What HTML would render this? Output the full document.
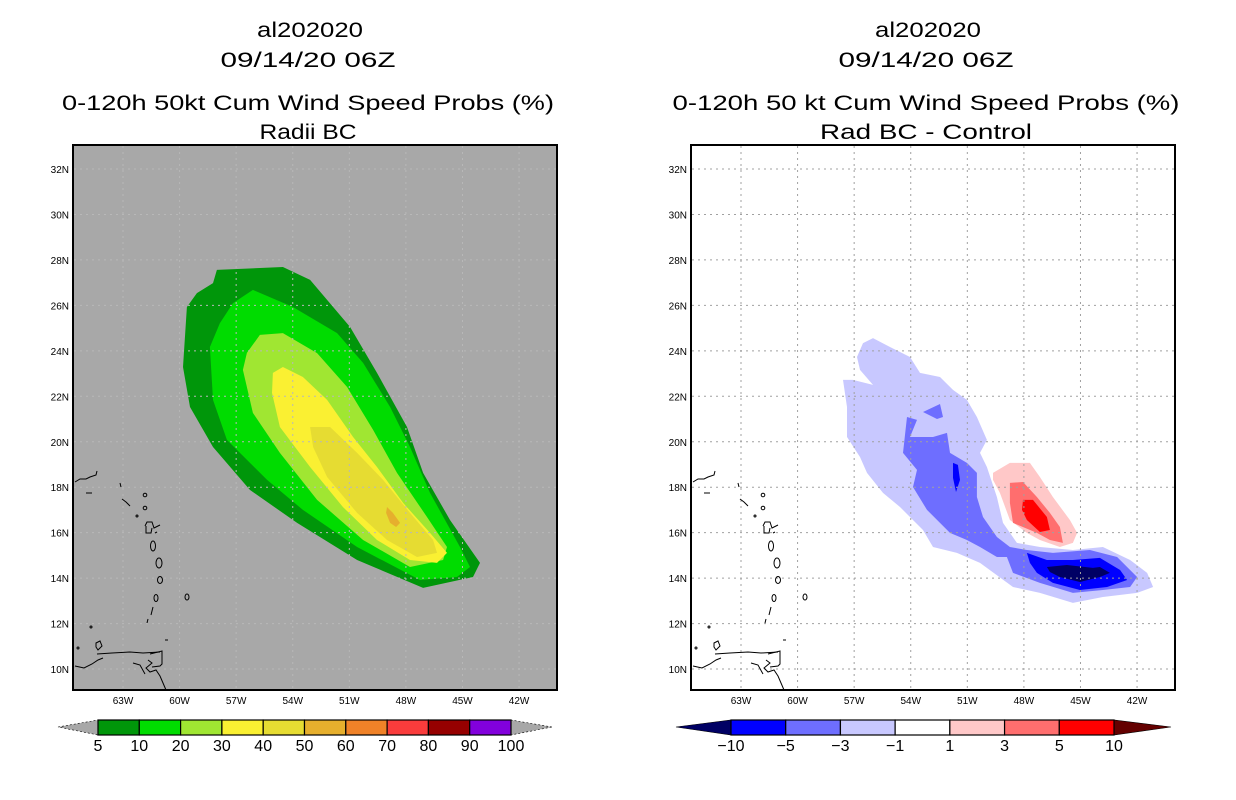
<!DOCTYPE html>
<html><head><meta charset="utf-8">
<style>
html,body{margin:0;padding:0;background:#fff;width:1236px;height:800px;overflow:hidden}
svg{display:block;font-family:"Liberation Sans",sans-serif}
.t{font-size:21px;text-anchor:middle;fill:#000}
.lab{font-size:10px;fill:#000}
.cb{font-size:16px;text-anchor:middle;fill:#000}
</style></head><body>
<svg id="s" width="1236" height="800">
<g>
<text class="t" x="310" y="37" textLength="106" lengthAdjust="spacingAndGlyphs">al202020</text>
<text class="t" x="308" y="67" textLength="175" lengthAdjust="spacingAndGlyphs">09/14/20 06Z</text>
<text class="t" x="308" y="110" textLength="492" lengthAdjust="spacingAndGlyphs">0-120h 50kt Cum Wind Speed Probs (%)</text>
<text class="t" x="308" y="139" textLength="97" lengthAdjust="spacingAndGlyphs">Radii BC</text>
</g>
<g>
<text class="t" x="928" y="37" textLength="106" lengthAdjust="spacingAndGlyphs">al202020</text>
<text class="t" x="926" y="67" textLength="175" lengthAdjust="spacingAndGlyphs">09/14/20 06Z</text>
<text class="t" x="926" y="110" textLength="507" lengthAdjust="spacingAndGlyphs">0-120h 50 kt Cum Wind Speed Probs (%)</text>
<text class="t" x="926" y="139" textLength="212" lengthAdjust="spacingAndGlyphs">Rad BC - Control</text>
</g>
<rect x="73" y="145" width="484" height="545" fill="#a8a8a8"/>
<rect x="691" y="145" width="484" height="545" fill="#fff"/>
<g id="leftFill"></g>
<g id="rightFill"></g>
<g id="grids"></g>
<g id="coastL" fill="none" stroke="#000" stroke-width="1">
<path d="M75,482 L80,479 L86,479 L90,477 L96,475 L97,471 M86,493 L92,493 M120,483 L121,487 M122,499 L126,502 L130,506"/>
<circle cx="145" cy="495" r="1.8"/><circle cx="145" cy="508" r="1.8"/><circle cx="137" cy="516" r="1"/>
<path d="M145,526 L147,522 L152,522 L154,528 L160,525 M146,526 L146,533 L151,533 L152,528 M155,533 L157,532"/>
<ellipse cx="153" cy="546" rx="2.5" ry="5"/><ellipse cx="159" cy="563" rx="3" ry="5"/><ellipse cx="160" cy="580" rx="2.5" ry="3.5"/>
<ellipse cx="156" cy="598" rx="2" ry="3.5"/><ellipse cx="187" cy="597" rx="2" ry="3"/><path d="M153,607 L151,615 M148,619 L147,623"/>
<circle cx="91" cy="627" r="1"/><circle cx="78" cy="648" r="1"/>
<path d="M96,643 L100,641 L102,646 L98,650 L96,647 Z M165,640 L168,640 M97,654 L112,653 L130,652 L143,653 L160,652 M75,666 L84,668 L92,664 L98,660 L103,658"/>
<path d="M150,654 L162,651 L162,664 L160,666 L152,667 M148,660 L152,663 L146,668 L150,672 L156,670 L160,676 L163,683 L166,690 M133,663 L140,665 L145,674"/>
</g>
<use href="#coastL" x="618" y="0"/>
<g id="axes"></g>
<rect x="73" y="145" width="484" height="545" fill="none" stroke="#000" stroke-width="2"/>
<rect x="691" y="145" width="484" height="545" fill="none" stroke="#000" stroke-width="2"/>
<g id="cbL"></g>
<g id="cbR"></g>
</svg>
<script>
// ---- data ----
const lonTicks=[-63,-60,-57,-54,-51,-48,-45,-42];
const latTicks=[10,12,14,16,18,20,22,24,26,28,30,32];
const probLevels=["5","10","20","30","40","50","60","70","80","90","100"];
const probColors=["#00960a","#00dc00","#a0e632","#faf032","#e6dc32","#e6af2d","#f08228","#fa3c3c","#960000","#8200dc"];
const diffLevels=["-10","-5","-3","-1","1","3","5","10"];
const diffColors=["#0000ff","#6e6eff","#c8c8ff","#ffffff","#ffc8c8","#ff6e6e","#ff0000"];
const p05=[[-58.02,27.56],[-54.52,27.69],[-53.08,27.12],[-50.96,25.05],[-49.53,23.03],[-47.94,20.65],[-47.09,18.63],[-45.66,16.56],[-44.07,14.67],[-44.44,14.05],[-47.09,13.57],[-50.59,14.80],[-53.77,16.43],[-56.27,17.88],[-58.23,19.77],[-59.45,21.53],[-59.82,23.29],[-59.61,25.93],[-59.08,26.54],[-58.23,26.98]];
const p10=[[-56.11,26.68],[-53.99,25.93],[-51.65,24.78],[-50.27,23.47],[-48.84,21.53],[-47.78,19.77],[-46.72,17.75],[-45.13,15.37],[-44.60,14.49],[-45.29,14.05],[-47.25,13.92],[-50.59,15.37],[-53.46,17.00],[-55.36,18.32],[-57.49,20.08],[-58.23,21.84],[-58.39,24.17],[-57.86,25.22],[-57.17,26.10]];
const p20=[[-55.74,24.70],[-54.52,24.78],[-52.71,23.90],[-51.12,22.41],[-49.74,20.52],[-48.47,18.63],[-46.88,16.69],[-45.82,15.37],[-46.03,14.80],[-47.78,14.49],[-50.27,15.68],[-52.71,17.44],[-54.68,19.51],[-56.11,21.27],[-56.64,23.16],[-56.43,23.91]];
const p30=[[-54.52,23.29],[-53.46,22.85],[-52.18,21.84],[-50.80,20.21],[-49.53,18.89],[-48.15,17.31],[-46.72,15.99],[-45.82,15.11],[-46.35,14.67],[-47.78,14.80],[-49.53,15.68],[-51.34,17.13],[-53.08,18.89],[-54.68,20.65],[-55.10,22.15],[-55.05,23.03]];
const p40=[[-53.08,20.65],[-52.02,20.65],[-50.59,19.51],[-49.21,18.32],[-47.78,16.87],[-46.56,15.68],[-46.35,15.11],[-47.41,14.93],[-49.00,15.68],[-50.59,16.87],[-52.18,18.45],[-52.92,19.77]];
const p50=[[-49.00,17.13],[-48.69,16.87],[-48.31,16.43],[-48.52,16.25],[-48.84,16.43],[-49.05,16.87]];
const dNeg1=[[-56.53,24.34],[-56.00,24.56],[-55.10,24.17],[-54.04,23.73],[-53.51,23.03],[-52.45,22.85],[-51.76,22.28],[-51.02,21.84],[-50.49,21.09],[-49.96,20.08],[-50.33,19.51],[-49.96,18.89],[-49.43,17.57],[-49.11,16.43],[-48.37,15.55],[-47.15,15.37],[-45.40,15.24],[-43.81,15.37],[-42.37,14.80],[-41.47,14.23],[-41.15,13.61],[-42.00,13.35],[-43.81,13.17],[-45.40,12.91],[-47.15,13.35],[-48.58,13.61],[-50.33,14.67],[-51.55,15.11],[-52.82,15.37],[-53.35,16.12],[-54.57,17.13],[-55.47,17.75],[-56.32,18.63],[-56.69,19.33],[-57.38,20.21],[-57.38,21.53],[-57.59,22.72],[-57.06,22.72],[-56.00,22.50],[-56.69,23.16],[-56.85,23.73]];
const dNeg3=[[-54.20,21.09],[-53.67,20.96],[-54.04,20.21],[-52.82,20.21],[-52.08,20.39],[-51.92,19.51],[-51.02,19.07],[-50.49,18.63],[-50.49,17.57],[-50.17,16.69],[-49.43,15.81],[-48.74,15.37],[-47.84,15.24],[-46.46,15.11],[-44.50,15.24],[-43.06,14.93],[-42.00,14.05],[-42.37,13.61],[-43.81,13.48],[-45.40,13.35],[-47.15,13.79],[-48.58,14.23],[-48.90,14.93],[-49.43,14.93],[-50.33,15.37],[-51.02,15.68],[-51.92,15.99],[-53.14,17.00],[-53.88,18.01],[-53.67,18.76],[-54.41,19.51]];
const dNeg3b=[[-53.35,21.31],[-52.45,21.66],[-52.29,21.09],[-52.61,21.00]];
const dNeg5=[[-47.84,15.11],[-46.78,14.80],[-45.40,14.80],[-43.97,14.89],[-42.90,14.36],[-42.53,13.92],[-43.59,13.61],[-45.03,13.48],[-46.46,13.79],[-47.31,14.23],[-47.68,14.67]];
const dNeg5b=[[-51.76,19.07],[-51.50,18.98],[-51.39,18.32],[-51.60,17.79],[-51.76,18.41]];
const dNeg10=[[-46.78,14.49],[-45.72,14.58],[-44.34,14.45],[-43.97,14.49],[-43.44,14.23],[-43.97,14.05],[-45.03,13.83],[-46.09,14.05],[-46.62,14.27]];
const dPos1=[[-49.64,18.63],[-48.74,19.07],[-47.68,19.07],[-47.15,18.45],[-46.46,17.57],[-45.56,16.56],[-45.18,15.99],[-45.40,15.55],[-46.09,15.37],[-47.15,15.68],[-47.84,15.99],[-48.74,16.56],[-49.27,17.75],[-49.64,18.32]];
const dPos3=[[-48.74,18.19],[-48.05,18.23],[-47.31,17.57],[-46.62,16.87],[-46.09,16.25],[-45.93,15.55],[-46.62,15.68],[-47.31,15.99],[-48.58,16.43],[-48.74,17.31]];
const dPos5=[[-48.05,17.44],[-47.52,17.44],[-46.78,16.69],[-46.62,16.12],[-47.15,16.03],[-47.84,16.56],[-48.10,17.00]];
// ---- axis functions ----
const NS='http://www.w3.org/2000/svg';
const xL=lon=>123+(lon+63)*18.86;
const xR=lon=>741+(lon+63)*18.86;
const y=lat=>169+(32-lat)*22.73;
function mk(tag,attrs,parent){const e=document.createElementNS(NS,tag);for(const k in attrs)e.setAttribute(k,attrs[k]);parent.appendChild(e);return e;}
function poly(pts,xf,color,parent,name){
  const e=mk('polygon',{points:pts.map(p=>xf(p[0]).toFixed(1)+','+y(p[1]).toFixed(1)).join(' '),fill:color},parent);
  
  
}
const LF=document.getElementById('leftFill'),RF=document.getElementById('rightFill');
[[p05,0,'contour-5'],[p10,1,'contour-10'],[p20,2,'contour-20'],[p30,3,'contour-30'],[p40,4,'contour-40'],[p50,5,'contour-50']].forEach(a=>poly(a[0],xL,probColors[a[1]],LF,a[2]));
poly(dNeg1,xR,diffColors[2],RF,'contour-neg1');
poly(dNeg3,xR,diffColors[1],RF,'contour-neg3');
poly(dNeg3b,xR,diffColors[1],RF,'contour-neg3-blob');
poly(dNeg5,xR,diffColors[0],RF,'contour-neg5');
poly(dNeg5b,xR,diffColors[0],RF,'contour-neg5-blob');
poly(dNeg10,xR,'#000064',RF,'contour-neg10');
poly(dPos1,xR,diffColors[4],RF,'contour-pos1');
poly(dPos3,xR,diffColors[5],RF,'contour-pos3');
poly(dPos5,xR,diffColors[6],RF,'contour-pos5');
// grids & labels
const G=document.getElementById('grids'),A=document.getElementById('axes');
[[xL,73,'#b8b8b8'],[xR,691,'#a0a0a0']].forEach(([xf,x0,col])=>{
  lonTicks.forEach(l=>{
    const ln=mk('line',{x1:xf(l),x2:xf(l),y1:146,y2:689,stroke:col,'stroke-width':1,'stroke-dasharray':'2,4'},G);
    
    
    const t=mk('text',{x:xf(l),y:704,'text-anchor':'middle',class:'lab'},A);
    t.textContent=Math.abs(l)+'W';
    
    
  });
  latTicks.forEach(l=>{
    const ln=mk('line',{x1:x0+1,x2:x0+483,y1:y(l),y2:y(l),stroke:col,'stroke-width':1,'stroke-dasharray':'2,4'},G);
    
    
    const t=mk('text',{x:x0-4,y:y(l)+4,'text-anchor':'end',class:'lab'},A);
    t.textContent=l+'N';
    
    
  });
});
// colorbars
function colorbar(parent,x0,x1,tipL,tipR,cols,labels,leftCol,rightCol){
  const n=cols.length,w=(x1-x0)/n;
  mk('polygon',{points:`${tipL},727 ${x0},720 ${x0},735`,fill:leftCol,stroke:'#000','stroke-width':0.6,'stroke-dasharray':leftCol=='#a8a8a8'?'2,2':'none'},parent);
  mk('polygon',{points:`${tipR},727 ${x1},720 ${x1},735`,fill:rightCol,stroke:'#000','stroke-width':0.6,'stroke-dasharray':rightCol=='#a8a8a8'?'2,2':'none'},parent);
  cols.forEach((c,i)=>{
    const r=mk('rect',{x:x0+i*w,y:720,width:w,height:15,fill:c,stroke:'#000','stroke-width':1.2},parent);
    
    
  });
  labels.forEach((s,i)=>{
    const t=mk('text',{x:x0+i*w,y:751,class:'cb'},parent);
    t.textContent=s.replace('-','\u2212');
    
    
  });
}
colorbar(document.getElementById('cbL'),98,511,58,552,probColors,probLevels,'#a8a8a8','#a8a8a8');
colorbar(document.getElementById('cbR'),731,1114,676,1171,diffColors,diffLevels,'#000064','#640000');
</script>
</body></html>
